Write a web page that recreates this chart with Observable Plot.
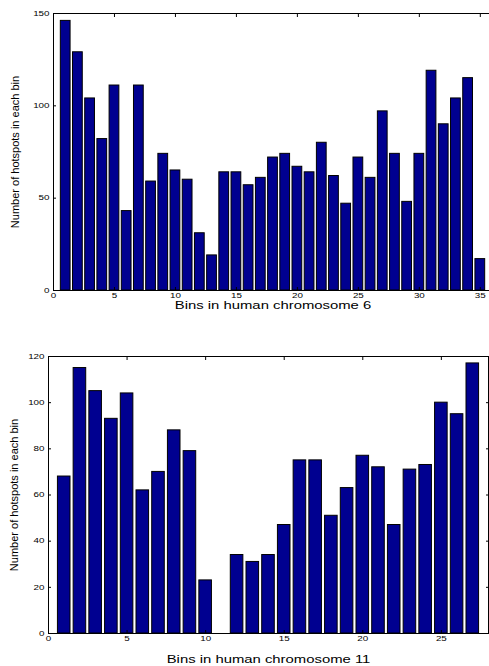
<!DOCTYPE html>
<html><head><meta charset="utf-8">
<script src="https://cdn.jsdelivr.net/npm/d3@7"></script>
<script src="https://cdn.jsdelivr.net/npm/@observablehq/plot@0.6"></script>
<style>
html,body{margin:0;padding:0;background:#fff;overflow:hidden;}
#wrap{width:489px;height:666px;overflow:hidden;}
#wrap svg{display:block;max-width:none;}
</style></head><body><div id="wrap"></div>
<script>
// Chromosome 6
const bins6 = [1,2,3,4,5,6,7,8,9,10,11,12,13,14,15,16,17,18,19,20,21,22,23,24,25,26,27,28,29,30,31,32,33,34,35];
const counts6 = [146,129,104,82,111,43,111,59,74,65,60,31,19,64,64,57,61,72,74,67,64,80,62,47,72,61,97,74,48,74,119,90,104,115,17];
const xTicks6 = [0,5,10,15,20,25,30,35];
const yTicks6 = [0,50,100,150];
const xLabel6 = "Bins in human chromosome 6";

// Chromosome 11
const bins11 = [1,2,3,4,5,6,7,8,9,10,11,12,13,14,15,16,17,18,19,20,21,22,23,24,25,26,27];
const counts11 = [68,115,105,93,104,62,70,88,79,23,0,34,31,34,47,75,75,51,63,77,72,47,71,73,100,95,117];
const xTicks11 = [0,5,10,15,20,25];
const yTicks11 = [0,20,40,60,80,100,120];
const xLabel11 = "Bins in human chromosome 11";

const yLabel = "Number of hotspots in each bin";

function chart(o) {
  const data = o.bins.map((b, i) => ({bin: b, count: o.counts[i]}));
  const empty = () => "";
  return Plot.plot({
    width: o.width, height: o.height,
    marginTop: o.mt, marginBottom: o.mb, marginLeft: o.ml, marginRight: o.mr,
    style: {fontFamily: "'Liberation Sans', Arial, sans-serif", fontSize: "7px", color: "#000", background: "#fff", maxWidth: "none"},
    x: {domain: o.xDomain},
    y: {domain: o.yDomain},
    marks: [
      Plot.rectY(data, {x1: d => d.bin - 0.4, x2: d => d.bin + 0.4, y1: 0, y2: "count", fill: "#000090", stroke: "#000", strokeWidth: 1}),
      Plot.frame({stroke: "#000", strokeWidth: 1}),
      Plot.axisX({anchor: "bottom", ticks: o.xTicks, tickSize: -3, tickPadding: 6, label: null, className: "lbl"}),
      Plot.axisX({anchor: "top", ticks: o.xTicks, tickSize: -3, tickFormat: empty, label: null}),
      Plot.axisY({anchor: "left", ticks: o.yTicks, tickSize: -3, tickPadding: 7, label: null}),
      Plot.axisY({anchor: "right", ticks: o.yTicks, tickSize: -3, tickFormat: empty, label: null}),
      Plot.text([o.xLabel], {frameAnchor: "bottom", dy: o.xLabelDy, text: d => d, fontSize: 11, lineAnchor: "middle", textAnchor: "middle", className: "xlab"}),
      Plot.text([yLabel], {frameAnchor: "left", dx: o.yLabelDx, text: d => d, fontSize: 11, rotate: -90, textAnchor: "middle", lineAnchor: "middle"})
    ]
  });
}

const wrap = document.getElementById("wrap");
const c1 = chart({bins: bins6, counts: counts6, xDomain: [0, 36], yDomain: [0, 150], xTicks: xTicks6, yTicks: yTicks6, xLabel: xLabel6,
  width: 492, height: 320, mt: 13, mb: 30, ml: 53, mr: 0, xLabelDy: 15, yLabelDx: -38});
const c2 = chart({bins: bins11, counts: counts11, xDomain: [0, 28], yDomain: [0, 120], xTicks: xTicks11, yTicks: yTicks11, xLabel: xLabel11,
  width: 489, height: 346, mt: 36, mb: 33, ml: 48, mr: 1, xLabelDy: 26, yLabelDx: -34});
wrap.appendChild(c1);
wrap.appendChild(c2);

// horizontal stretch of the horizontal texts, as in the reference picture
function stretch(svg, sel, k) {
  d3.select(svg).selectAll(sel).each(function () {
    const L = this.getComputedTextLength();
    if (L > 0) { this.setAttribute("textLength", L * k); this.setAttribute("lengthAdjust", "spacingAndGlyphs"); }
  });
}
for (const s of [c1, c2]) {
  stretch(s, "g[aria-label='x-axis tick label'] text, g[aria-label='y-axis tick label'] text", 1.4);
  stretch(s, ".xlab text", 1.35);
}
</script></body></html>
